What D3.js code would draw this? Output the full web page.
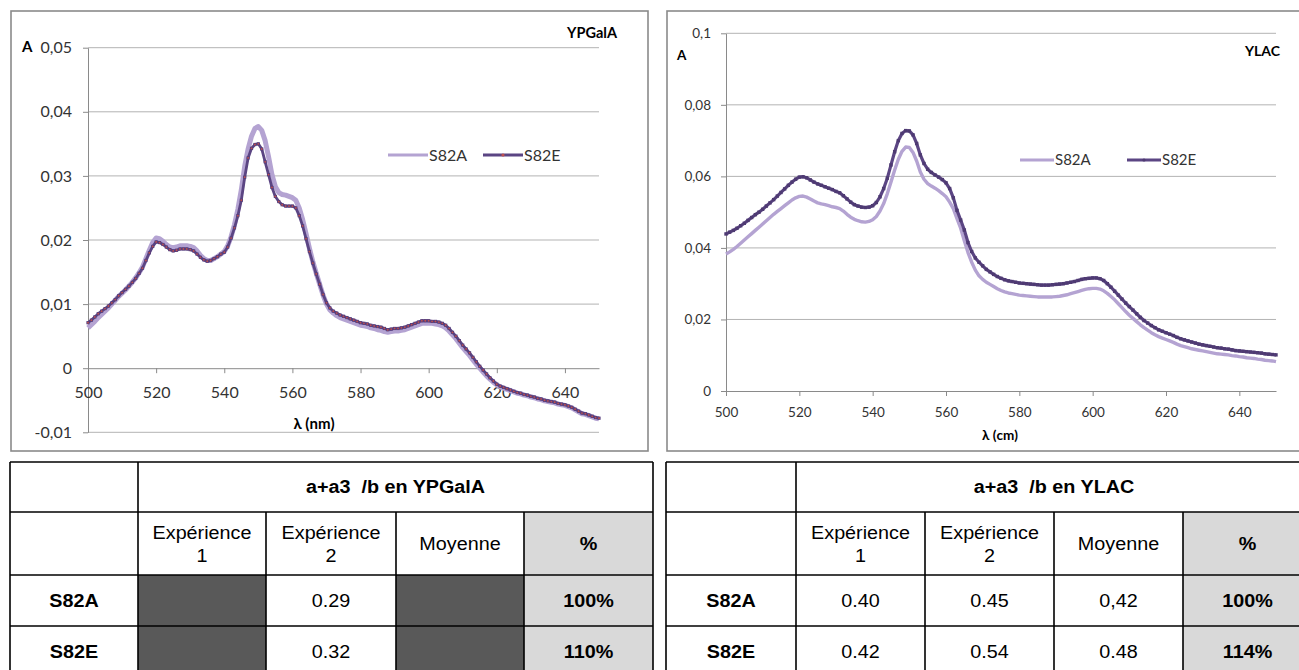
<!DOCTYPE html>
<html><head><meta charset="utf-8">
<script src="https://cdn.jsdelivr.net/npm/d3@7"></script>
<style>body{margin:0;background:#fff;overflow:hidden}</style>
</head><body><svg id="c" width="1299" height="670"></svg>
<script>
// ---------- DATA ----------
const wavelengths = d3.range(500, 651); // nm, 1 nm steps
const seriesNames = ["S82A", "S82E"];
const xTicks = [500, 520, 540, 560, 580, 600, 620, 640];
const ypgalYTicks = [-0.01, 0, 0.01, 0.02, 0.03, 0.04, 0.05];
const ylacYTicks = [0, 0.02, 0.04, 0.06, 0.08, 0.1];

const ypgal_S82A = [
 0.0063,0.0068,0.0073,0.0079,0.0084,0.0089,0.0094,0.0100,0.0106,0.0112,
 0.0117,0.0122,0.0128,0.0134,0.0141,0.0149,0.0158,0.0171,0.0184,0.0196,
 0.0203,0.0202,0.0198,0.0193,0.0189,0.0188,0.0189,0.0191,0.0191,0.0191,
 0.0190,0.0188,0.0183,0.0176,0.0171,0.0168,0.0168,0.0171,0.0174,0.0178,
 0.0182,0.0191,0.0205,0.0224,0.0248,0.0278,0.0315,0.0342,0.0362,0.0374,
 0.0377,0.0371,0.0355,0.0330,0.0302,0.0283,0.0274,0.0271,0.0270,0.0268,
 0.0266,0.0262,0.0250,0.0232,0.0210,0.0187,0.0166,0.0148,0.0131,0.0114,
 0.0100,0.0091,0.0086,0.0082,0.0079,0.0077,0.0075,0.0073,0.0071,0.0069,
 0.0067,0.0066,0.0065,0.0063,0.0062,0.0060,0.0059,0.0057,0.0056,0.0057,
 0.0058,0.0058,0.0059,0.0060,0.0062,0.0064,0.0066,0.0068,0.0070,0.0070,
 0.0070,0.0070,0.0069,0.0068,0.0066,0.0063,0.0058,0.0052,0.0046,0.0039,
 0.0032,0.0026,0.0020,0.0013,0.0006,0.0000,-0.0006,-0.0012,-0.0017,-0.0022,
 -0.0026,-0.0029,-0.0031,-0.0033,-0.0035,-0.0037,-0.0039,-0.0040,-0.0042,-0.0043,
 -0.0045,-0.0046,-0.0048,-0.0049,-0.0051,-0.0052,-0.0053,-0.0054,-0.0056,-0.0057,
 -0.0058,-0.0060,-0.0062,-0.0065,-0.0068,-0.0071,-0.0072,-0.0074,-0.0076,-0.0078,
 -0.0079];

const ypgal_S82E = [
 0.0071,0.0075,0.0080,0.0085,0.0089,0.0093,0.0097,0.0102,0.0107,0.0113,
 0.0118,0.0123,0.0128,0.0134,0.0140,0.0148,0.0156,0.0168,0.0180,0.0190,
 0.0197,0.0196,0.0193,0.0189,0.0185,0.0183,0.0184,0.0186,0.0186,0.0186,
 0.0185,0.0183,0.0178,0.0173,0.0169,0.0167,0.0168,0.0171,0.0174,0.0178,
 0.0181,0.0189,0.0203,0.0219,0.0238,0.0262,0.0298,0.0328,0.0343,0.0349,
 0.0350,0.0342,0.0322,0.0302,0.0282,0.0268,0.0260,0.0255,0.0253,0.0253,
 0.0253,0.0250,0.0238,0.0222,0.0202,0.0182,0.0164,0.0147,0.0131,0.0115,
 0.0102,0.0094,0.0089,0.0086,0.0083,0.0081,0.0079,0.0077,0.0075,0.0073,
 0.0071,0.0070,0.0069,0.0067,0.0066,0.0065,0.0064,0.0062,0.0060,0.0061,
 0.0062,0.0062,0.0063,0.0064,0.0066,0.0068,0.0070,0.0072,0.0074,0.0074,
 0.0074,0.0073,0.0073,0.0072,0.0070,0.0067,0.0062,0.0056,0.0050,0.0043,
 0.0036,0.0030,0.0024,0.0017,0.0010,0.0003,-0.0003,-0.0009,-0.0015,-0.0020,
 -0.0025,-0.0028,-0.0030,-0.0032,-0.0034,-0.0036,-0.0038,-0.0039,-0.0041,-0.0042,
 -0.0044,-0.0045,-0.0047,-0.0048,-0.0050,-0.0051,-0.0052,-0.0053,-0.0055,-0.0056,
 -0.0057,-0.0059,-0.0061,-0.0064,-0.0067,-0.0070,-0.0071,-0.0073,-0.0075,-0.0077,
 -0.0078];

const ylac_S82A = [
 0.0383,0.0389,0.0396,0.0404,0.0413,0.0422,0.0431,0.0440,0.0449,0.0458,
 0.0467,0.0476,0.0485,0.0494,0.0502,0.0510,0.0518,0.0526,0.0534,0.0540,
 0.0544,0.0545,0.0542,0.0537,0.0531,0.0526,0.0523,0.0521,0.0518,0.0515,
 0.0513,0.0510,0.0503,0.0494,0.0486,0.0480,0.0476,0.0473,0.0472,0.0474,
 0.0479,0.0488,0.0503,0.0524,0.0552,0.0584,0.0618,0.0648,0.0670,0.0682,
 0.0681,0.0667,0.0643,0.0612,0.0592,0.0580,0.0573,0.0567,0.0560,0.0552,
 0.0543,0.0528,0.0510,0.0482,0.0455,0.0420,0.0387,0.0360,0.0338,0.0322,
 0.0312,0.0304,0.0298,0.0292,0.0286,0.0281,0.0277,0.0274,0.0272,0.0270,
 0.0268,0.0267,0.0266,0.0265,0.0264,0.0263,0.0263,0.0263,0.0263,0.0263,
 0.0264,0.0265,0.0267,0.0269,0.0272,0.0275,0.0278,0.0281,0.0284,0.0286,
 0.0287,0.0287,0.0285,0.0280,0.0273,0.0264,0.0255,0.0244,0.0233,0.0222,
 0.0212,0.0203,0.0194,0.0185,0.0177,0.0170,0.0163,0.0157,0.0152,0.0148,
 0.0144,0.0140,0.0136,0.0131,0.0127,0.0124,0.0121,0.0118,0.0116,0.0114,
 0.0112,0.0110,0.0108,0.0106,0.0104,0.0103,0.0102,0.0101,0.0099,0.0098,
 0.0096,0.0095,0.0093,0.0092,0.0091,0.0089,0.0088,0.0086,0.0085,0.0084,
 0.0082];

const ylac_S82E = [
 0.0439,0.0444,0.0449,0.0455,0.0462,0.0469,0.0477,0.0485,0.0493,0.0500,
 0.0508,0.0517,0.0526,0.0535,0.0545,0.0555,0.0565,0.0575,0.0584,0.0592,
 0.0598,0.0599,0.0596,0.0590,0.0584,0.0579,0.0575,0.0571,0.0567,0.0563,
 0.0558,0.0554,0.0546,0.0537,0.0528,0.0521,0.0517,0.0514,0.0513,0.0514,
 0.0518,0.0527,0.0543,0.0566,0.0595,0.0632,0.0669,0.0700,0.0720,0.0728,
 0.0727,0.0716,0.0692,0.0660,0.0636,0.0620,0.0611,0.0604,0.0598,0.0591,
 0.0582,0.0566,0.0540,0.0505,0.0478,0.0450,0.0415,0.0390,0.0372,0.0360,
 0.0350,0.0340,0.0333,0.0326,0.0320,0.0315,0.0311,0.0308,0.0306,0.0304,
 0.0302,0.0301,0.0300,0.0299,0.0298,0.0297,0.0296,0.0296,0.0296,0.0297,
 0.0298,0.0299,0.0300,0.0302,0.0304,0.0306,0.0309,0.0312,0.0314,0.0315,
 0.0316,0.0316,0.0314,0.0309,0.0300,0.0290,0.0279,0.0268,0.0257,0.0246,
 0.0236,0.0226,0.0216,0.0206,0.0197,0.0190,0.0183,0.0177,0.0171,0.0167,
 0.0163,0.0159,0.0155,0.0150,0.0146,0.0143,0.0140,0.0137,0.0134,0.0131,
 0.0129,0.0127,0.0125,0.0123,0.0121,0.0120,0.0118,0.0117,0.0115,0.0113,
 0.0112,0.0111,0.0110,0.0109,0.0108,0.0107,0.0106,0.0104,0.0103,0.0102,
 0.0101];

const tableColumns = ["", "Expérience|1", "Expérience|2", "Moyenne", "%"];
const tableRows = ["S82A", "S82E"];
const ypgalTitle = "a+a3  /b en YPGalA";
const ylacTitle = "a+a3  /b en YLAC";
const ypgalTable = [[null, "0.29", null, "100%"], [null, "0.32", null, "110%"]];
const ylacTable = [["0.40", "0.45", "0,42", "100%"], ["0.42", "0.54", "0.48", "114%"]];

// ---------- DRAW ----------
const svg = d3.select("#c");
const CF = "Lato, 'Open Sans', sans-serif";
const TF = "'Liberation Sans', Arial, sans-serif";
const colA = "#b4a3d2", colE = "#5b4583";
const fmt = d => d === 0 ? "0" : String(d).replace(".", ",");

function drawChart(cfg) {
  const g = svg.append("g");
  g.append("rect").attr("x", cfg.frame[0]).attr("y", cfg.frame[1])
    .attr("width", cfg.frame[2]).attr("height", cfg.frame[3])
    .attr("fill", "#fff").attr("stroke", "#8a8a8a").attr("stroke-width", 1.6);
  const x = d3.scaleLinear().domain([500, 650]).range(cfg.xRange);
  const y = d3.scaleLinear().domain(cfg.yDomain).range(cfg.yRange);
  g.selectAll(".grid").data(cfg.yTicks.filter(t => t !== 0)).join("line")
    .attr("x1", cfg.xRange[0]).attr("x2", cfg.xRange[1])
    .attr("y1", d => y(d)).attr("y2", d => y(d))
    .attr("stroke", "#b3b3b3").attr("stroke-width", 1);
  const ya = g.append("g").attr("transform", `translate(${cfg.xRange[0]},0)`)
    .call(d3.axisLeft(y).tickValues(cfg.yTicks).tickFormat(fmt).tickSize(5).tickSizeOuter(0).tickPadding(cfg.yPad));
  ya.select(".domain").attr("stroke", "#8a8a8a");
  ya.selectAll(".tick line").attr("stroke", "#8a8a8a");
  ya.selectAll("text").attr("font-family", CF).attr("font-size", cfg.fs).attr("fill", "#333");
  const xa = g.append("g").attr("transform", `translate(0,${y(0)})`)
    .call(d3.axisBottom(x).tickValues(xTicks).tickSize(5).tickSizeOuter(0));
  xa.select(".domain").attr("stroke", "#8a8a8a");
  xa.selectAll(".tick line").attr("stroke", "#8a8a8a");
  xa.selectAll("text").attr("font-family", CF).attr("font-size", cfg.fs).attr("fill", "#333")
    .attr("y", cfg.xLabelOff).attr("dy", "0.35em");
  const line = d3.line().x((d, i) => x(wavelengths[i])).y(d => y(d));
  g.append("path").datum(cfg.sA).attr("d", line).attr("fill", "none")
    .attr("stroke", colA).attr("stroke-width", cfg.wA).attr("stroke-linejoin", "round");
  g.append("path").datum(cfg.sE).attr("d", line).attr("fill", "none")
    .attr("stroke", colE).attr("stroke-width", cfg.wE).attr("stroke-linejoin", "round");
  g.selectAll(".mk").data(cfg.sE).join("rect")
    .attr("x", (d, i) => x(wavelengths[i]) - cfg.ms / 2).attr("y", d => y(d) - cfg.ms / 2)
    .attr("width", cfg.ms).attr("height", cfg.ms).attr("fill", cfg.mOuter);
  if (cfg.mInner) g.selectAll(".mi").data(cfg.sE).join("circle")
    .attr("cx", (d, i) => x(wavelengths[i])).attr("cy", d => y(d))
    .attr("r", cfg.mr).attr("fill", cfg.mInner);
  g.append("text").attr("x", cfg.aPos[0]).attr("y", cfg.aPos[1]).attr("dy", "0.35em")
    .attr("font-family", CF).attr("font-weight", "bold").attr("font-size", cfg.afs).text("A");
  g.append("text").attr("x", cfg.titlePos[0]).attr("y", cfg.titlePos[1]).attr("dy", "0.35em")
    .attr("text-anchor", "end").attr("font-family", CF).attr("font-weight", "bold")
    .attr("font-size", cfg.tfs).text(cfg.title);
  g.append("text").attr("x", cfg.xLabPos[0]).attr("y", cfg.xLabPos[1]).attr("dy", "0.35em")
    .attr("text-anchor", "middle").attr("font-family", CF).attr("font-weight", "bold")
    .attr("font-size", cfg.xlfs).text(cfg.xLabel);
  const cols = [colA, colE];
  seriesNames.forEach((n, i) => {
    const lx = cfg.legend[i], ly = cfg.legendY;
    g.append("line").attr("x1", lx).attr("x2", lx + cfg.legLen).attr("y1", ly).attr("y2", ly)
      .attr("stroke", cols[i]).attr("stroke-width", 3);
    if (i === 1) g.append("circle").attr("cx", lx + cfg.legLen / 2).attr("cy", ly).attr("r", 1.6)
      .attr("fill", cfg.mInner || cfg.mOuter);
    g.append("text").attr("x", lx + cfg.legLen + 1).attr("y", ly).attr("dy", "0.35em")
      .attr("font-family", CF).attr("font-size", cfg.lfs).attr("fill", "#333").text(n);
  });
}

drawChart({
  frame: [11, 11, 637, 440], xRange: [88, 599], yDomain: [-0.01, 0.05], yRange: [432.3, 47.7],
  yTicks: ypgalYTicks, yPad: 11, fs: 16, xLabelOff: 24.5, sA: ypgal_S82A, sE: ypgal_S82E,
  wA: 5, wE: 2.8, ms: 3.2, mOuter: "#553d7c", mInner: "#c0504d", mr: 0.9,
  aPos: [22, 47], afs: 15, titlePos: [617, 33], title: "YPGalA", tfs: 14.5,
  xLabPos: [314, 424], xLabel: "λ (nm)", xlfs: 15,
  legend: [388, 483], legendY: 155, legLen: 40, lfs: 16
});
drawChart({
  frame: [667, 11, 645, 440], xRange: [726, 1276], yDomain: [0, 0.1], yRange: [391, 33.3],
  yTicks: ylacYTicks, yPad: 10, fs: 13.5, xLabelOff: 21, sA: ylac_S82A, sE: ylac_S82E,
  wA: 3.4, wE: 3.2, ms: 3.4, mOuter: "#4e3a72", mInner: null, mr: 0,
  aPos: [677, 55], afs: 13.5, titlePos: [1280, 51], title: "YLAC", tfs: 14,
  xLabPos: [1000, 435], xLabel: "λ (cm)", xlfs: 13.5,
  legend: [1020, 1127], legendY: 160, legLen: 34, lfs: 15
});

// ---------- TABLES ----------
const rowEdges = [462, 512, 575, 626, 677];
function drawTable(xEdges, title, rows) {
  const g = svg.append("g");
  const sx = 1.13;
  const T = (x, y, s, bold) => g.append("text")
    .attr("transform", `translate(${x},${y}) scale(${sx},1)`)
    .attr("text-anchor", "middle").attr("dy", "0.35em")
    .attr("font-family", TF).attr("font-size", 17.5).attr("font-weight", bold ? "bold" : "normal")
    .attr("fill", "#000").style("white-space", "pre").text(s);
  const cx = i => (xEdges[i] + xEdges[i + 1]) / 2;
  const cy = r => (rowEdges[r] + rowEdges[r + 1]) / 2;
  rows.forEach((row, r) => row.forEach((v, c) => {
    if (v === null) g.append("rect").attr("x", xEdges[c + 1]).attr("y", rowEdges[r + 2])
      .attr("width", xEdges[c + 2] - xEdges[c + 1]).attr("height", rowEdges[r + 3] - rowEdges[r + 2]).attr("fill", "#595959");
  }));
  g.append("rect").attr("x", xEdges[4]).attr("y", rowEdges[1]).attr("width", xEdges[5] - xEdges[4])
    .attr("height", rowEdges[4] - rowEdges[1]).attr("fill", "#d9d9d9");
  const L = (x1, y1, x2, y2) => g.append("line").attr("x1", x1).attr("y1", y1).attr("x2", x2).attr("y2", y2)
    .attr("stroke", "#000").attr("stroke-width", 1.6);
  rowEdges.forEach(ry => L(xEdges[0], ry, xEdges[5], ry));
  L(xEdges[0], rowEdges[0], xEdges[0], rowEdges[4]);
  L(xEdges[1], rowEdges[0], xEdges[1], rowEdges[4]);
  L(xEdges[5], rowEdges[0], xEdges[5], rowEdges[4]);
  [2, 3, 4].forEach(i => L(xEdges[i], rowEdges[1], xEdges[i], rowEdges[4]));
  T((xEdges[1] + xEdges[5]) / 2, cy(0), title, true);
  tableColumns.forEach((c, i) => {
    if (!c) return;
    const parts = c.split("|");
    if (parts.length === 2) { T(cx(i), 532.5, parts[0], false); T(cx(i), 556, parts[1], false); }
    else T(cx(i), cy(1), c, c === "%");
  });
  tableRows.forEach((n, r) => {
    T(cx(0), cy(r + 2), n, true);
    rows[r].forEach((v, c) => { if (v !== null) T(cx(c + 1), cy(r + 2), v, c === 3); });
  });
}
drawTable([10, 138, 266, 396, 524, 653], ypgalTitle, ypgalTable);
drawTable([666, 796, 925, 1054, 1183, 1312], ylacTitle, ylacTable);
</script></body></html>
